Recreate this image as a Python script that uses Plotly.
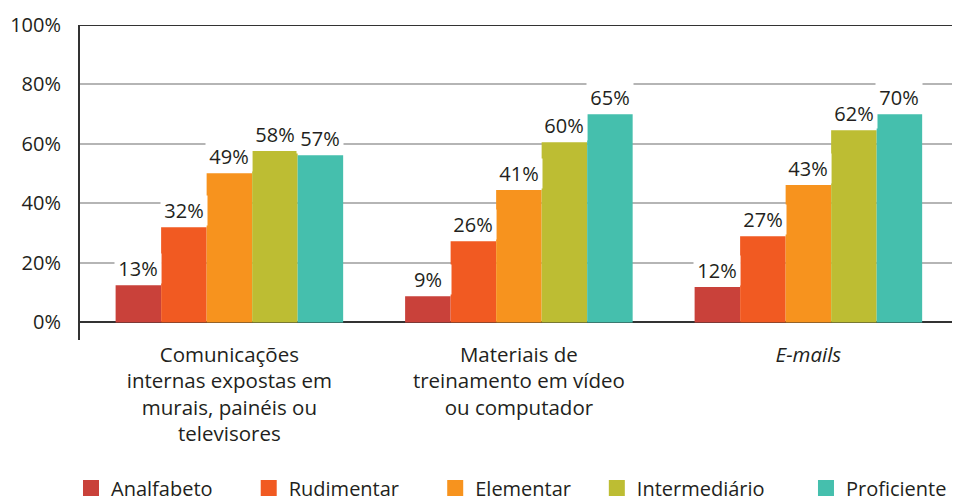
import plotly.graph_objects as go

categories = [
    "Comunicações<br>internas expostas em<br>murais, painéis ou<br>televisores",
    "Materiais de<br>treinamento em vídeo<br>ou computador",
    "<i>E-mails</i>",
]
levels = ["Analfabeto", "Rudimentar", "Elementar", "Intermediário", "Proficiente"]
colors = ["#C9413A", "#F15A22", "#F7931E", "#BDBD33", "#45BFAD"]

# bar heights as drawn in the picture (%)
analfabeto = [12.5, 8.8, 11.9]
rudimentar = [32.0, 27.3, 29.0]
elementar = [50.2, 44.5, 46.2]
intermediario = [57.6, 60.6, 64.6]
proficiente = [56.2, 70.0, 70.0]
series = [analfabeto, rudimentar, elementar, intermediario, proficiente]

# printed labels
lbl_analfabeto = ["13%", "9%", "12%"]
lbl_rudimentar = ["32%", "26%", "27%"]
lbl_elementar = ["49%", "41%", "43%"]
lbl_intermediario = ["58%", "60%", "62%"]
lbl_proficiente = ["57%", "65%", "70%"]
labels = [lbl_analfabeto, lbl_rudimentar, lbl_elementar, lbl_intermediario, lbl_proficiente]

y_ticks = [0, 20, 40, 60, 80, 100]

BARGAP = 0.214
NUM_FONT = dict(family="Open Sans, Lato, sans-serif", size=20, color="#231F20")
CAT_FONT = dict(family="Open Sans, Lato, sans-serif", size=20.5, color="#231F20")
LEG_FONT = dict(family="Open Sans, Lato, sans-serif", size=20, color="#231F20")
LEG_PAD = [6, 6, 4, 7, 0]  # non-breaking spaces after each legend entry

fig = go.Figure()
idx = list(range(len(categories)))
for name, vals, col in zip(levels, series, colors):
    fig.add_trace(go.Bar(x=idx, y=vals, name=name, marker=dict(color=col, line=dict(width=0)),
                         showlegend=False))
# legend entries with larger square symbols
for name, col, pad in zip(levels, colors, LEG_PAD):
    fig.add_trace(go.Scatter(x=[None], y=[None], mode="markers",
                             name=name + "\u00a0" * pad,
                             marker=dict(symbol="square", size=16, color=col)))

n = len(levels)
w = (1 - BARGAP) / n
for i, (vals, lbls) in enumerate(zip(series, labels)):
    for j, (v, t) in enumerate(zip(vals, lbls)):
        fig.add_annotation(x=j + (i - (n - 1) / 2) * w, y=v, text=t, showarrow=False,
                           xref="x", yref="y", yanchor="bottom", yshift=1,
                           font=NUM_FONT, bgcolor="white", width=44, borderpad=1)

fig.add_shape(type="line", xref="paper", yref="y", x0=0, x1=1, y0=100, y1=100,
              line=dict(color="#333333", width=2), layer="above")

# the page adds an 8px body margin, so the figure is sized to fit the 960x500 window
fig.update_layout(
    width=952, height=492,
    margin=dict(l=72, r=6, t=17, b=160, autoexpand=False),
    paper_bgcolor="white", plot_bgcolor="white",
    barmode="group", bargap=BARGAP, bargroupgap=0,
    showlegend=True,
    legend=dict(orientation="h", x=-0.0103, xanchor="left", y=-0.470, yanchor="middle",
                font=LEG_FONT, itemclick=False, traceorder="normal"),
    xaxis=dict(tickmode="array", tickvals=idx, ticktext=categories, tickfont=CAT_FONT,
               range=[-0.516, 2.503], showgrid=False, ticks="", showline=False,
               zeroline=False, automargin=False),
    yaxis=dict(range=[-5.9, 100], tickmode="array", tickvals=y_ticks,
               ticktext=[f"{v}%" for v in y_ticks], tickfont=NUM_FONT,
               showgrid=True, gridcolor="#B5B5B5", gridwidth=1.5,
               zeroline=True, zerolinecolor="#333333", zerolinewidth=2,
               showline=True, linecolor="#333333", linewidth=2, ticks="",
               ticklabelstandoff=13, automargin=False),
)

fig.write_html("out.html")
